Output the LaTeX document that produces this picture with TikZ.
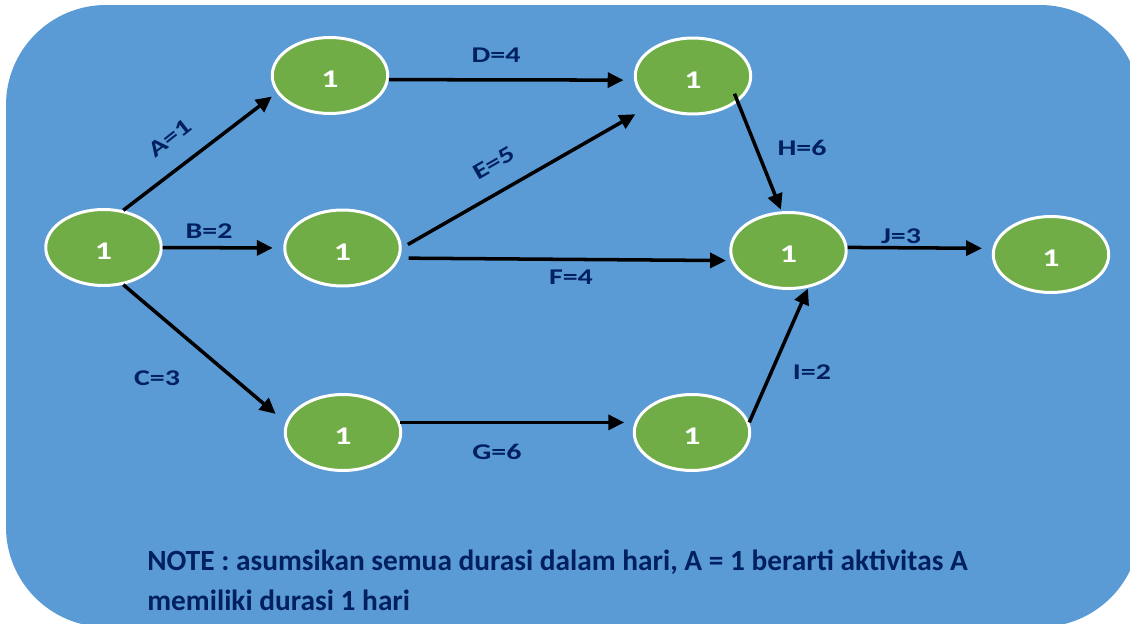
\documentclass[tikz,border=0pt]{standalone}
\usepackage{fontspec}
\setmainfont{Carlito}
\newfontfamily\widefont{Carlito}[FakeStretch=1.33]
\usetikzlibrary{shapes.geometric, arrows.meta}
\definecolor{panel}{HTML}{5B9BD5}
\definecolor{evgreen}{HTML}{70AD47}
\definecolor{navy}{HTML}{002060}

\begin{document}
\begin{tikzpicture}[x=0.02cm, y=-0.02cm,
            event/.style={ellipse, draw=white, line width=1.7pt, fill=evgreen, minimum width=2.31cm, minimum height=1.52cm, inner sep=0pt, text=white, text height=14pt, font=\widefont\bfseries\fontsize{14.5}{16}\selectfont},
            act/.style={line width=2pt, -{Triangle[length=9pt, width=8.5pt]}, shorten >=6pt},
            lbl/.style={inner sep=0pt, text=navy, font=\widefont\bfseries\fontsize{12.8}{15}\selectfont}
            ]
            \useasboundingbox (0,0) rectangle (1130,623);
            \fill[panel, rounded corners=2cm] (6,5) rectangle (1140,627);

            % events
            \node[event] (a) at (103.5,247.5) {1};
            \node[event] (b) at (330,75.5) {1};
            \node[event] (c) at (342.5,248) {1};
            \node[event] (d) at (343,432.5) {1};
            \node[event] (e) at (693,76) {1};
            \node[event] (f) at (788.5,250.5) {1};
            \node[event] (g) at (692,432.5) {1};
            \node[event] (h) at (1051,254.5) {1};

            % activities
            \draw[act, shorten >=3.5pt] (a.62) -- (b.198);
            \draw[act] (a.east) -- (c.west);
            \draw[act, shorten >=7.5pt] (a.-62) -- (d.170);
            \draw[act] (b.-4) -- (e.184);
            \draw[act, shorten <=4pt, shorten >=11pt] (c.0) -- (e.215);
            \draw[act, shorten <=5pt, shorten >=3pt] (c.-10) -- (f.190);
            \draw[act] (d.10) -- (g.170);
            \draw[act, shorten <=-5pt, shorten >=1pt] (e.-30) -- (f.100);
            \draw[act, shorten >=0.5pt] (g.10) -- (f.-62);
            \draw[act] (f.3) -- (h.174);

            \node[lbl, rotate=38] (la) at (170,138) {A=1};
            \node[lbl] (lb) at (209,231) {B=2};
            \node[lbl] (lc) at (157,378) {C=3};
            \node[lbl] (ld) at (496,55) {D=4};
            \node[lbl, rotate=30] (le) at (494,163) {E=5};
            \node[lbl] (lf) at (571,277) {F=4};
            \node[lbl] (lg) at (497,452) {G=6};
            \node[lbl] (lh) at (802,148) {H=6};
            \node[lbl] (li) at (812,372) {I=2};
            \node[lbl] (lj) at (901,236) {J=3};

            \node[anchor=north west, align=left, inner sep=0pt, text=navy, font=\bfseries\fontsize{16.7}{22.7}\selectfont] (nt) at (147,550)
                {NOTE : asumsikan semua durasi dalam hari, A = 1 berarti aktivitas A\\memiliki durasi 1 hari};
\end{tikzpicture}
\end{document}
